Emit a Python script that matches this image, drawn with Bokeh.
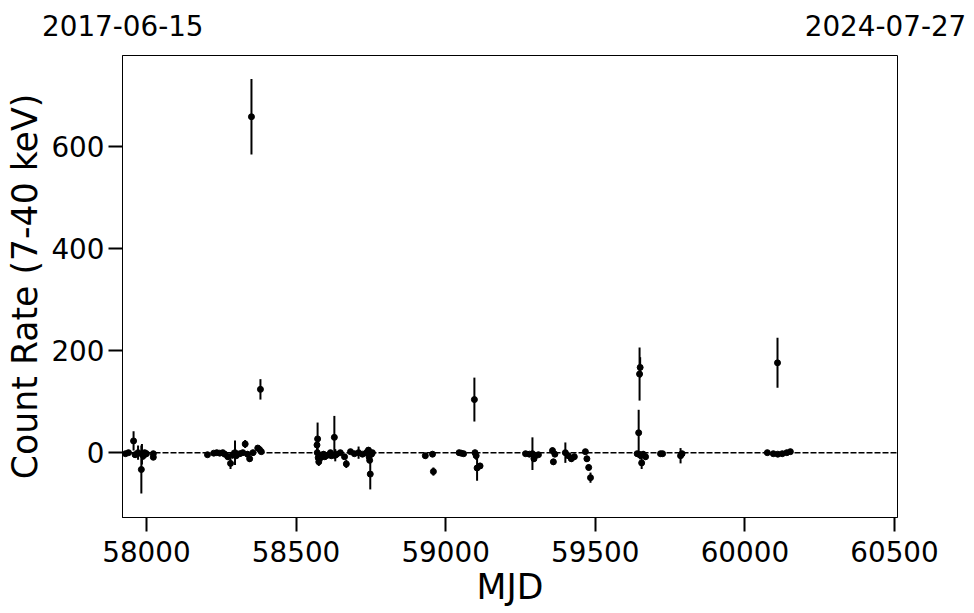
from bokeh.plotting import figure
from bokeh.models import ColumnDataSource, Span, FixedTicker, Range1d, LinearAxis
from bokeh.embed import file_html
from bokeh.resources import INLINE

mjd = [57930, 57940, 57957, 57962, 57972, 57983, 57985, 57990, 57994, 58000, 58023, 58023,
       58204, 58225, 58235, 58245, 58255, 58262, 58272, 58281, 58288, 58296, 58300, 58312,
       58322, 58330, 58338, 58345, 58351, 58356, 58372, 58378, 58381, 58384,
       58570, 58572, 58571, 58574, 58576, 58582, 58585, 58592, 58596, 58605, 58615, 58618,
       58628, 58631, 58636, 58648, 58662, 58668, 58682, 58695, 58709, 58722, 58735, 58742,
       58744, 58746, 58748, 58752, 58755,
       58932, 58956, 58959,
       59045, 59052, 59060, 59096, 59098, 59102, 59105, 59115,
       59267, 59280, 59290, 59295, 59300, 59310, 59357, 59360, 59365, 59400, 59410, 59420,
       59430, 59467, 59472, 59478, 59484,
       59645, 59648, 59650, 59640, 59650, 59655, 59660, 59668, 59718, 59725, 59785, 59790,
       60075, 60095, 60109, 60110, 60125, 60140, 60152]
rate = [-2, 0, 23, -4, 0, -33, -3, -6, 0, -2, -2, -9,
        -4, -1, 0, -1, 0, -3, -8, -21, -4, 0, -6, -2,
        0, 17, -3, -12, 658, 0, 9, 6, 124, 2,
        15, 27, 0, -10, -18, -10, -5, -3, -8, -5, 0, -6,
        30, -5, -3, 0, -8, -22, 2, -2, 0, -3, 0, 5,
        -8, -15, -42, -3, 0,
        -6, -3, -37,
        0, -1, -2, 104, 0, -6, -30, -26,
        -2, -3, -2, -12, -6, -4, 4, -18, -3, 0, -6, -12,
        -8, 2, -12, -29, -49,
        39, 154, 167, -2, -5, -20, -3, -8, -2, -2, -6, -2,
        0, -2, 176, -3, -2, 0, 2]
err = [4, 4, 19, 6, 14, 47, 20, 8, 5, 6, 4, 4,
       4, 3, 3, 4, 4, 5, 6, 11, 8, 24, 5, 5,
       4, 8, 6, 6, 74, 4, 4, 4, 20, 4,
       15, 32, 10, 12, 8, 6, 6, 6, 5, 5, 5, 5,
       42, 12, 5, 5, 5, 8, 4, 4, 12, 4, 4, 5,
       6, 6, 30, 5, 5,
       5, 5, 8,
       3, 3, 3, 43, 5, 8, 25, 6,
       4, 4, 32, 6, 6, 4, 6, 6, 4, 20, 6, 6,
       6, 5, 6, 6, 10,
       45, 52, 20, 5, 8, 12, 6, 6, 4, 4, 15, 5,
       3, 3, 49, 3, 3, 3, 3]

x_ticks = [58000, 58500, 59000, 59500, 60000, 60500]
y_ticks = [0, 200, 400, 600]
date_labels = ["2017-06-15", "2024-07-27"]
date_ticks = [57921, 60470]

lower = [r - e for r, e in zip(rate, err)]
upper = [r + e for r, e in zip(rate, err)]
src = ColumnDataSource(dict(x=mjd, y=rate, lo=lower, hi=upper))

W, H = 974, 613
p = figure(width=W, height=H, output_backend="svg", toolbar_location=None,
           x_range=Range1d(57920, 60510), y_range=Range1d(-127, 778),
           min_border_left=122, min_border_right=W - 897,
           min_border_top=55, min_border_bottom=H - 517)
p.grid.visible = False
p.outline_line_color = "black"
p.outline_line_width = 1
p.background_fill_color = "white"
p.border_fill_color = "white"

p.add_layout(Span(location=0, dimension="width", line_color="black",
                  line_dash="6 2", line_width=1.5))

p.segment(x0="x", y0="lo", x1="x", y1="hi", source=src, line_color="black", line_width=2)
p.scatter(x="x", y="y", source=src, size=6, color="black", marker="circle")

for ax in (p.xaxis[0], p.yaxis[0]):
    ax.major_label_text_font = "DejaVu Sans"
    ax.major_label_text_font_size = "27.8px"
    ax.major_label_text_color = "black"
    ax.axis_label_text_font = "DejaVu Sans"
    ax.axis_label_text_font_size = "34.7px"
    ax.axis_label_text_font_style = "normal"
    ax.axis_label_text_color = "black"
    ax.major_tick_out = 14
    ax.major_tick_in = 0
    ax.major_tick_line_width = 2
    ax.major_tick_line_color = "black"
    ax.minor_tick_line_color = None
    ax.axis_line_color = "black"
    ax.axis_line_width = 1

p.xaxis[0].ticker = FixedTicker(ticks=x_ticks)
p.yaxis[0].ticker = FixedTicker(ticks=y_ticks)
p.xaxis[0].axis_label = "MJD"
p.yaxis[0].axis_label = "Count Rate (7-40 keV)"
p.xaxis[0].major_label_standoff = 9
p.xaxis[0].axis_label_standoff = 2
p.yaxis[0].major_label_standoff = 4
p.yaxis[0].axis_label_standoff = 3

top = LinearAxis(ticker=FixedTicker(ticks=date_ticks),
                 major_label_overrides={date_ticks[0]: date_labels[0],
                                        date_ticks[1]: date_labels[1]},
                 major_label_text_font="DejaVu Sans",
                 major_label_text_font_size="27.8px",
                 major_label_text_color="black",
                 major_label_standoff=20,
                 axis_line_color=None, major_tick_line_color=None,
                 minor_tick_line_color=None, major_tick_out=0, major_tick_in=0)
p.add_layout(top, "above")

open("out.html", "w").write(file_html(p, INLINE))
